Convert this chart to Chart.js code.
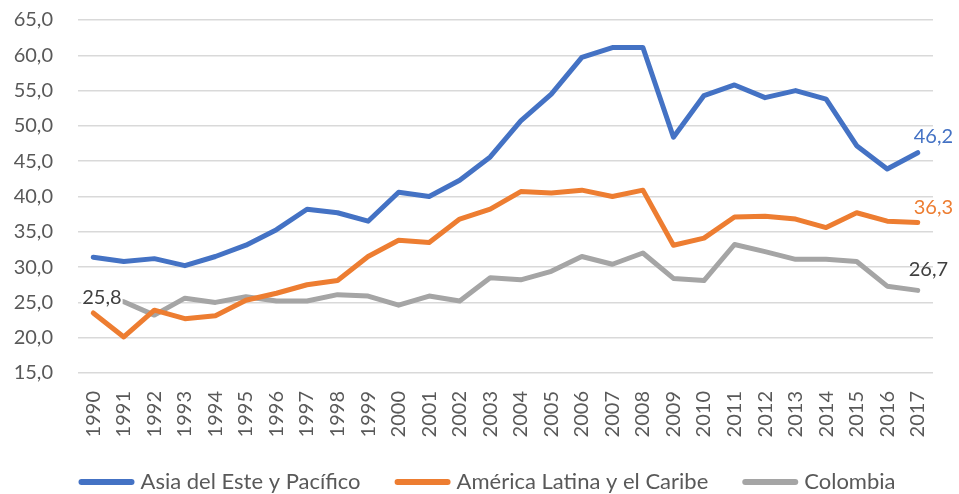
<!DOCTYPE html>
<html><head><meta charset="utf-8">
<script src="https://cdn.jsdelivr.net/npm/chart.js@4/dist/chart.umd.min.js"></script>
<style>html,body{margin:0;padding:0;background:#fff}#w{width:959px;height:494px}</style>
</head><body><div id="w"><canvas id="c"></canvas></div>
<script>
const years = ["1990","1991","1992","1993","1994","1995","1996","1997","1998","1999","2000","2001","2002","2003","2004","2005","2006","2007","2008","2009","2010","2011","2012","2013","2014","2015","2016","2017"];
const asia = [31.4,30.8,31.2,30.2,31.5,33.1,35.3,38.2,37.7,36.5,40.6,40.0,42.3,45.6,50.7,54.5,59.7,61.1,61.1,48.4,54.3,55.8,54.0,55.0,53.8,47.2,43.9,46.2];
const latam = [23.5,20.1,23.9,22.7,23.1,25.3,26.3,27.5,28.1,31.5,33.8,33.5,36.8,38.2,40.7,40.5,40.9,40.0,40.9,33.1,34.1,37.1,37.2,36.8,35.6,37.7,36.5,36.3];
const colombia = [25.8,25.1,23.2,25.6,25.0,25.8,25.2,25.2,26.1,25.9,24.6,25.9,25.2,28.5,28.2,29.4,31.5,30.4,32.0,28.4,28.1,33.2,32.2,31.1,31.1,30.8,27.3,26.7];
const seriesNames = ["Asia del Este y Pacífico","América Latina y el Caribe","Colombia"];
const seriesColors = ['#4472C4','#ED7D31','#A5A5A5'];
const yTicks = {min:15, max:65, step:5};

const fmt = v => v.toFixed(1).replace('.', ',');
const FONT = "Lato, 'Open Sans', sans-serif";

const labelPlugin = {
  id: 'endLabels',
  afterDatasetsDraw(chart) {
    const ctx = chart.ctx;
    ctx.save();
    ctx.font = "20px " + FONT;
    ctx.textBaseline = 'middle';
    ctx.textAlign = 'left';
    const specs = [
      {ds:0, idx:asia.length-1, color:'#4472C4', dx:-4, dy:-16, bg:false},
      {ds:1, idx:latam.length-1, color:'#ED7D31', dx:-4, dy:-15, bg:false},
      {ds:2, idx:colombia.length-1, color:'#404040', dx:-9, dy:-21, bg:false},
      {ds:2, idx:0, color:'#404040', dx:-11, dy:1, bg:true}
    ];
    specs.forEach(s => {
      const el = chart.getDatasetMeta(s.ds).data[s.idx];
      const v = chart.data.datasets[s.ds].data[s.idx];
      const t = fmt(v);
      const x = el.x + s.dx, y = el.y + s.dy;
      if (s.bg) {
        const w = ctx.measureText(t).width;
        ctx.fillStyle = '#ffffff';
        ctx.fillRect(x - 1, y - 11, w + 2, 22);
      }
      ctx.fillStyle = s.color;
      ctx.fillText(t, x, y);
    });
    ctx.restore();
  }
};

const legendPlugin = {
  id: 'lineLegend',
  afterDraw(chart) {
    const ctx = chart.ctx;
    ctx.save();
    ctx.font = "22px " + FONT;
    ctx.textBaseline = 'middle';
    ctx.textAlign = 'left';
    const lineW = 56, gapT = 6, gapI = 34, y = 482;
    const dsets = chart.data.datasets;
    let total = 0;
    dsets.forEach((d, i) => { total += lineW + gapT + ctx.measureText(d.label).width + (i < dsets.length - 1 ? gapI : 0); });
    let x = 487 - total / 2;
    dsets.forEach(d => {
      ctx.strokeStyle = d.borderColor;
      ctx.lineWidth = 6;
      ctx.lineCap = 'round';
      ctx.beginPath(); ctx.moveTo(x + 3, y); ctx.lineTo(x + lineW - 3, y); ctx.stroke();
      x += lineW + gapT;
      ctx.fillStyle = '#595959';
      ctx.fillText(d.label, x, y);
      x += ctx.measureText(d.label).width + gapI;
    });
    ctx.restore();
  }
};

new Chart(document.getElementById('c'), {
  type: 'line',
  data: {
    labels: years,
    datasets: seriesNames.map((n, i) => ({label: n, data: [asia, latam, colombia][i], borderColor: seriesColors[i], backgroundColor: seriesColors[i]}))
  },
  options: {
    responsive: true, maintainAspectRatio: false, animation: false,
    elements: {line: {borderWidth: 5, tension: 0, borderCapStyle:'round', borderJoinStyle:'round'}, point: {radius: 0}},
    layout: {padding: {left: 0, right: 26, top: 20, bottom: 0}},
    plugins: {
      legend: {display: false},
      tooltip: {enabled:false}
    },
    scales: {
      x: {offset: true, grid: {display:false, drawTicks:false}, border:{display:false},
          afterFit: s => { s.height = 121; s.paddingLeft = 0; s.paddingRight = 0; },
          ticks: {minRotation:90, maxRotation:90, autoSkip:false, color:'#595959', padding: 18, font:{family:FONT, size:20}}},
      y: {min: yTicks.min, max: yTicks.max, border:{display:false},
          afterFit: s => { s.width = 78; s.paddingTop = 0; s.paddingBottom = 0; },
          grid: {color:'#d9d9d9', lineWidth:1.5, drawTicks:false},
          ticks: {stepSize: yTicks.step, padding: 25, color:'#595959', font:{family:FONT, size:20}, callback: v => fmt(v)}}
    }
  },
  plugins: [labelPlugin, legendPlugin]
});
</script></body></html>
